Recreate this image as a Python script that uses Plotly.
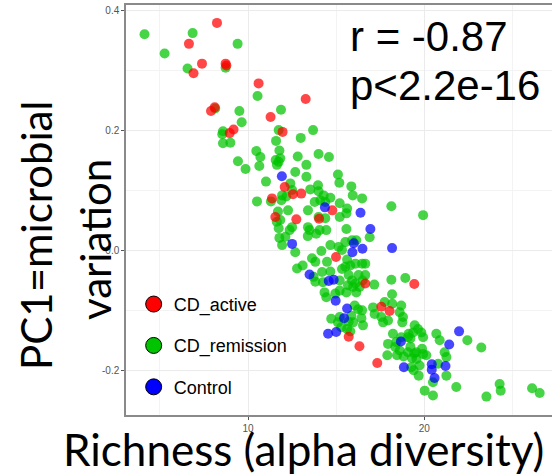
import plotly.graph_objects as go

# Richness (alpha diversity) vs PC1 of microbial variation, by disease group
active_richness = [8.24, 6.65, 7.39, 6.91, 8.73, 8.77, 10.60, 13.27, 7.90, 8.11,
                   11.28, 11.96, 9.18, 8.96, 12.08, 12.55, 13.02, 11.36, 14.78, 11.55,
                   12.74, 14.03, 14.99, 16.65, 19.43, 17.56, 18.03, 15.71, 16.32, 17.33]
active_pc1 = [0.380, 0.345, 0.312, 0.296, 0.312, 0.309, 0.279, 0.253, 0.233, 0.239,
              0.223, 0.198, 0.202, 0.196, 0.106, 0.094, 0.095, 0.087, 0.067, 0.056,
              0.052, 0.053, -0.011, -0.055, -0.056, -0.094, -0.101, -0.144, -0.160, -0.188]

remission_richness = [
    4.13, 5.27, 6.86, 6.57, 8.73, 9.41, 10.54, 8.14, 9.51, 9.64,
    8.58, 8.54, 8.58, 9.00, 9.43, 9.86, 10.47, 10.70, 10.64, 11.02,
    10.51, 11.87, 11.74, 11.59, 13.69, 12.99, 11.78, 11.57, 11.74, 11.64,
    11.83, 12.82, 14.00, 14.59, 13.31, 12.68, 13.31, 15.10, 15.18, 12.40,
    12.50, 13.53, 13.97, 14.00, 14.29, 14.67, 15.86, 15.94, 16.47, 11.93,
    12.17, 11.89, 13.40, 13.78, 15.20, 15.58, 15.20, 13.49, 14.06, 14.44,
    12.36, 15.58, 11.70, 12.27, 11.83, 18.13, 19.93, 16.90, 16.65, 16.65,
    18.13, 18.92, 17.16, 11.63, 14.10, 14.38, 15.62, 14.00, 14.38, 12.50,
    13.40, 13.39, 13.87, 11.78, 12.12, 11.93, 12.68, 13.10, 12.78, 13.63,
    13.82, 14.16, 14.48, 14.67, 15.14, 15.33, 15.52, 15.90, 15.62, 16.09,
    16.47, 15.52, 15.80, 15.33, 14.20, 14.67, 13.72, 13.82, 16.27, 16.50,
    15.90, 15.71, 16.14, 14.25, 15.20, 15.67, 14.34, 14.44, 15.20, 15.58,
    15.96, 16.14, 16.33, 18.17, 17.09, 17.18, 17.75, 18.18, 18.69, 17.56,
    17.94, 17.66, 18.60, 18.79, 18.75, 16.24, 16.05, 16.43, 16.52, 15.86,
    15.96, 15.20, 14.72, 15.10, 15.29, 15.62, 17.90, 17.94, 18.41, 18.22,
    18.69, 19.07, 19.45, 19.64, 19.36, 19.93, 19.83, 18.60, 19.07, 19.55,
    19.55, 19.26, 19.73, 19.93, 20.11, 19.68, 20.49, 20.02, 20.49, 20.68,
    20.87, 21.15, 21.25, 21.25, 21.81, 22.44, 23.23, 23.52, 24.27, 24.33,
    26.11, 26.54, 20.78, 19.21, 19.87, 19.43, 16.09, 14.95, 16.47, 15.71,
    15.80, 19.21, 18.35, 18.45, 18.82, 19.30, 19.39, 19.11, 11.30, 11.74]
remission_pc1 = [
    0.361, 0.329, 0.363, 0.304, 0.305, 0.345, 0.258, 0.237, 0.233, 0.214,
    0.199, 0.194, 0.179, 0.180, 0.149, 0.136, 0.166, 0.156, 0.141, 0.115,
    0.082, 0.235, 0.201, 0.183, 0.201, 0.188, 0.167, 0.151, 0.148, 0.143,
    0.154, 0.157, 0.161, 0.156, 0.143, 0.131, 0.123, 0.127, 0.113, 0.112,
    0.101, 0.102, 0.109, 0.099, 0.092, 0.088, 0.107, 0.092, 0.087, 0.092,
    0.090, 0.084, 0.067, 0.081, 0.079, 0.062, 0.056, 0.034, 0.034, 0.034,
    0.034, 0.036, 0.065, 0.067, 0.051, 0.074, 0.059, 0.022, -0.022, -0.041,
    -0.049, -0.046, -0.057, 0.048, 0.084, 0.081, 0.070, 0.056, 0.054, 0.039,
    0.039, 0.024, 0.028, 0.021, 0.023, 0.009, -0.003, -0.025, -0.030, -0.013,
    -0.019, -0.001, -0.019, 0.009, 0.006, 0.001, 0.014, 0.017, -0.015, -0.022,
    -0.022, -0.027, -0.025, -0.031, -0.036, -0.035, -0.044, -0.052, -0.041, -0.050,
    -0.050, -0.041, 0.017, -0.053, -0.050, -0.058, -0.070, -0.078, -0.067, -0.070,
    -0.061, -0.070, -0.061, -0.073, -0.095, -0.106, -0.086, -0.089, -0.092, -0.111,
    -0.117, -0.120, -0.103, -0.111, -0.120, -0.098, -0.092, -0.113, -0.125, -0.109,
    -0.120, -0.111, -0.114, -0.120, -0.128, -0.131, -0.175, -0.156, -0.153, -0.139,
    -0.145, -0.145, -0.125, -0.131, -0.137, -0.145, -0.137, -0.167, -0.170, -0.170,
    -0.181, -0.195, -0.192, -0.173, -0.175, -0.209, -0.220, -0.234, -0.242, -0.139,
    -0.150, -0.170, -0.178, -0.209, -0.228, -0.150, -0.162, -0.244, -0.223, -0.234,
    -0.230, -0.238, -0.189, -0.147, -0.164, -0.172, -0.055, -0.072, -0.100, -0.119,
    -0.135, -0.161, -0.161, -0.175, -0.177, -0.180, -0.200, -0.139, 0.082, 0.037]

control_richness = [11.92, 14.36, 16.38, 16.94, 12.50, 18.17, 16.49, 15.92, 16.00, 13.49,
                    14.58, 14.86, 14.97, 15.62, 15.45, 14.54, 15.00, 18.67, 18.84, 20.42,
                    20.42, 20.58, 21.20, 21.41, 21.97]
control_pc1 = [0.124, 0.072, 0.063, 0.036, 0.011, 0.004, 0.003, -0.003, 0.012, -0.040,
               -0.051, -0.049, -0.084, -0.097, -0.113, -0.139, -0.136, -0.152, -0.195, -0.190,
               -0.199, -0.213, -0.193, -0.157, -0.135]

group_names = ["CD_active", "CD_remission", "Control"]
group_colors = ["#FF0000", "#00C400", "#0000FF"]

x_ticks = [10, 20]
x_tick_text = ["10", "20"]
y_ticks = [-0.2, 0.0, 0.2, 0.4]
y_tick_text = ["-0.2", "0.0", "0.2", "0.4"]

stat_lines = ["r = -0.87", "p<2.2e-16"]

fig = go.Figure()

# points: remission first, then active and control on top
series = [
    (remission_richness, remission_pc1, group_colors[1]),
    (active_richness, active_pc1, group_colors[0]),
    (control_richness, control_pc1, group_colors[2]),
]
for xs, ys, col in series:
    fig.add_trace(go.Scatter(
        x=xs, y=ys, mode="markers", showlegend=False, hoverinfo="skip",
        marker=dict(size=10, color=col, opacity=0.72, line=dict(width=0)),
    ))

# legend keys: solid circles with a black outline
for name, col in zip(group_names, group_colors):
    fig.add_trace(go.Scatter(
        x=[None], y=[None], mode="markers", name=name, legendgroup=name,
        marker=dict(size=16, color=col, line=dict(color="black", width=1)),
    ))

grid_major = "#EBEBEB"
grid_minor = "#F3F3F3"

fig.update_layout(
    width=552, height=474,
    margin=dict(l=126, r=0, t=5, b=59, pad=0),
    paper_bgcolor="white", plot_bgcolor="white",
    font=dict(family="Liberation Sans, Arial, sans-serif", color="black"),
    showlegend=True,
    legend=dict(
        x=0.018, y=0.315, xanchor="left", yanchor="top",
        bgcolor="rgba(0,0,0,0)", borderwidth=0,
        font=dict(size=18, family="Liberation Sans, Arial, sans-serif", color="black"),
        traceorder="grouped", tracegroupgap=15, itemsizing="trace",
    ),
    xaxis=dict(
        range=[3.08, 27.24], tickvals=x_ticks, ticktext=x_tick_text,
        showgrid=True, gridcolor=grid_major, gridwidth=1,
        minor=dict(dtick=5, tick0=0, showgrid=True, gridcolor=grid_minor, gridwidth=1),
        zeroline=False, showline=True, linecolor="#8A8A8A", linewidth=1.5, mirror=True,
        ticks="outside", ticklen=3, tickcolor="#555", tickwidth=1,
        tickfont=dict(size=10, color="#555"),
    ),
    yaxis=dict(
        range=[-0.2747, 0.4099], tickvals=y_ticks, ticktext=y_tick_text,
        showgrid=True, gridcolor=grid_major, gridwidth=1,
        minor=dict(dtick=0.1, tick0=0, showgrid=True, gridcolor=grid_minor, gridwidth=1),
        zeroline=False, showline=True, linecolor="#8A8A8A", linewidth=1.5, mirror=False,
        ticks="outside", ticklen=3, tickcolor="#555", tickwidth=1,
        tickfont=dict(size=10, color="#555"),
    ),
)

title_family = "Lato, Carlito, sans-serif"

# axis titles
fig.add_annotation(text="Richness (alpha diversity)", xref="paper", yref="paper",
                   x=0.416, y=-0.083, xanchor="center", yanchor="middle",
                   showarrow=False, font=dict(family=title_family, size=44, color="black"))
fig.add_annotation(text="PC1=microbial", xref="paper", yref="paper",
                   x=-0.211, y=0.437, xanchor="center", yanchor="middle",
                   textangle=-90, showarrow=False,
                   font=dict(family=title_family, size=42, color="black"))
fig.add_annotation(text="variation", xref="paper", yref="paper",
                   x=-0.073, y=0.429, xanchor="center", yanchor="middle",
                   textangle=-90, showarrow=False,
                   font=dict(family=title_family, size=42, color="black"))

# correlation statistics
stat_font = dict(family="Liberation Sans, Arial, sans-serif", size=42, color="black")
fig.add_annotation(text=stat_lines[0], xref="paper", yref="paper",
                   x=0.5204, y=0.9226, xanchor="left", yanchor="middle",
                   showarrow=False, font=stat_font)
fig.add_annotation(text=stat_lines[1], xref="paper", yref="paper",
                   x=0.5204, y=0.8045, xanchor="left", yanchor="middle",
                   showarrow=False, font=stat_font)

fig.write_html("out.html")
